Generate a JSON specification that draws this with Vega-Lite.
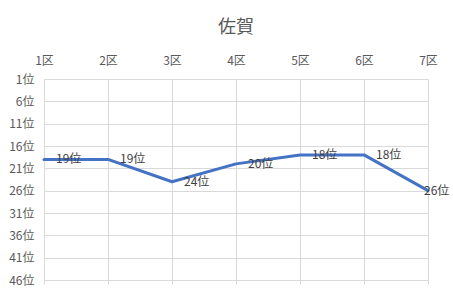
{
  "$schema": "https://vega.github.io/schema/vega-lite/v6.json",
  "width": 384,
  "height": 201,
  "autosize": {"type": "none"},
  "padding": {"left": 44, "top": 79, "right": 25, "bottom": 24},
  "background": "white",
  "title": {
    "text": "佐賀",
    "font": "Noto Sans CJK JP",
    "fontSize": 18,
    "fontWeight": "normal",
    "color": "#595959",
    "anchor": "middle",
    "offset": 17
  },
  "config": {
    "view": {"stroke": null},
    "font": "Noto Sans CJK JP"
  },
  "data": {
    "values": [
      {"district": "1区", "rank": 19},
      {"district": "2区", "rank": 19},
      {"district": "3区", "rank": 24},
      {"district": "4区", "rank": 20},
      {"district": "5区", "rank": 18},
      {"district": "6区", "rank": 18},
      {"district": "7区", "rank": 26}
    ]
  },
  "transform": [{"calculate": "datum.rank + '位'", "as": "label"}],
  "encoding": {
    "x": {
      "field": "district",
      "type": "ordinal",
      "scale": {"type": "point", "padding": 0},
      "sort": null
    },
    "y": {
      "field": "rank",
      "type": "quantitative",
      "scale": {"domain": [1, 46], "reverse": true, "nice": false, "zero": false},
      "axis": {
        "title": null,
        "values": [1, 6, 11, 16, 21, 26, 31, 36, 41, 46],
        "labelExpr": "datum.value + '位'",
        "domain": false,
        "ticks": false,
        "grid": true,
        "gridColor": "#d9d9d9",
        "gridWidth": 1,
        "labelPadding": 10,
        "labelColor": "#595959",
        "labelFontSize": 12,
        "labelFont": "Noto Sans CJK JP"
      }
    }
  },
  "resolve": {"axis": {"x": "independent"}},
  "layer": [
    {
      "mark": {"type": "line", "color": "#4472C4", "strokeWidth": 3, "strokeJoin": "round", "strokeCap": "round"},
      "encoding": {
        "x": {
          "field": "district",
          "type": "ordinal",
          "scale": {"type": "point", "padding": 0},
          "sort": null,
          "axis": {
            "orient": "top",
            "title": null,
            "labelAngle": 0,
            "domain": false,
            "ticks": false,
            "grid": true,
            "gridColor": "#d9d9d9",
            "gridWidth": 1,
            "labelPadding": 12,
            "labelColor": "#595959",
            "labelFontSize": 12,
            "labelFont": "Noto Sans CJK JP"
          }
        }
      }
    },
    {
      "transform": [{"filter": "datum.district != '7区'"}],
      "mark": {"type": "text", "align": "left", "baseline": "middle", "dx": 12, "fontSize": 12, "color": "#404040", "font": "Noto Sans CJK JP"},
      "encoding": {
        "x": {
          "field": "district",
          "type": "ordinal",
          "scale": {"type": "point", "padding": 0},
          "sort": null,
          "axis": {
            "orient": "bottom",
            "title": null,
            "labels": false,
            "domain": false,
            "ticks": true,
            "tickSize": 4,
            "tickColor": "#d9d9d9",
            "tickWidth": 1,
            "grid": false
          }
        },
        "text": {"field": "label"}
      }
    },
    {
      "transform": [{"filter": "datum.district == '7区'"}],
      "mark": {"type": "text", "align": "left", "baseline": "middle", "dx": -4, "fontSize": 12, "color": "#404040", "font": "Noto Sans CJK JP"},
      "encoding": {
        "x": {
          "field": "district",
          "type": "ordinal",
          "scale": {"type": "point", "padding": 0},
          "sort": null,
          "axis": null
        },
        "text": {"field": "label"}
      }
    }
  ]
}
